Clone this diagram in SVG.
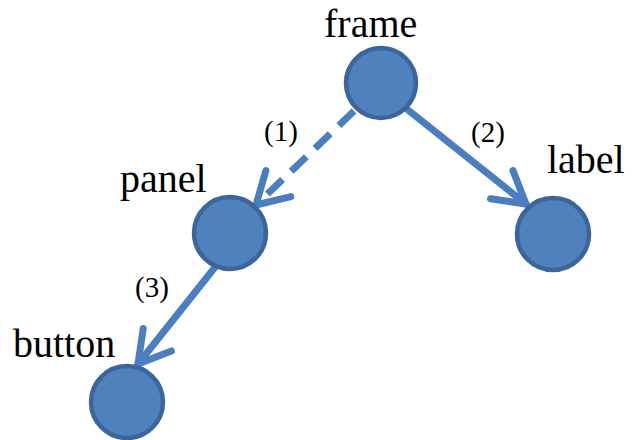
<svg xmlns="http://www.w3.org/2000/svg" width="637" height="440" viewBox="0 0 637 440">
<defs>
<style>
.node{fill:#4F81BD;stroke:#3B659B;stroke-width:4.5}
.name{font-family:"Liberation Serif","Times New Roman",serif;font-size:40px;fill:#000}
.num{font-family:"Liberation Serif","Times New Roman",serif;font-size:29px;fill:#000}
.edge{fill:none;stroke:#4A7EBF;stroke-width:7;stroke-linecap:round;stroke-linejoin:round}
.dash{stroke-dasharray:21 12;stroke-linecap:butt}
</style>
<marker id="arr" markerUnits="userSpaceOnUse" markerWidth="80" markerHeight="80" refX="0" refY="0" viewBox="-40 -40 80 80" orient="auto" overflow="visible">
<path d="M -31 -18 L 0 0 L -31 18" fill="none" stroke="#4A7EBF" stroke-width="7" stroke-linecap="round" stroke-linejoin="round"/>
</marker>
</defs>
<rect width="637" height="440" fill="#fff"/>
<g id="connectors">
<path class="edge dash" d="M 354 111 L 256 205" marker-end="url(#arr)"/>
<path class="edge" d="M 408 110 L 526 204" marker-end="url(#arr)"/>
<path class="edge" d="M 216 266 L 138 364" marker-end="url(#arr)"/>
<text class="num" x="264" y="141">(1)</text>
<text class="num" x="471" y="142">(2)</text>
<text class="num" x="135" y="297">(3)</text>
</g>
<g id="frame">
<circle class="node" cx="381" cy="83" r="35"/>
<text class="name" x="324" y="37">frame</text>
</g>
<g id="panel">
<circle class="node" cx="230" cy="233" r="36"/>
<text class="name" x="120" y="192">panel</text>
</g>
<g id="label">
<circle class="node" cx="553" cy="234" r="36"/>
<text class="name" x="547" y="173">label</text>
</g>
<g id="button">
<circle class="node" cx="127" cy="402" r="36"/>
<text class="name" x="13" y="357">button</text>
</g>
</svg>
